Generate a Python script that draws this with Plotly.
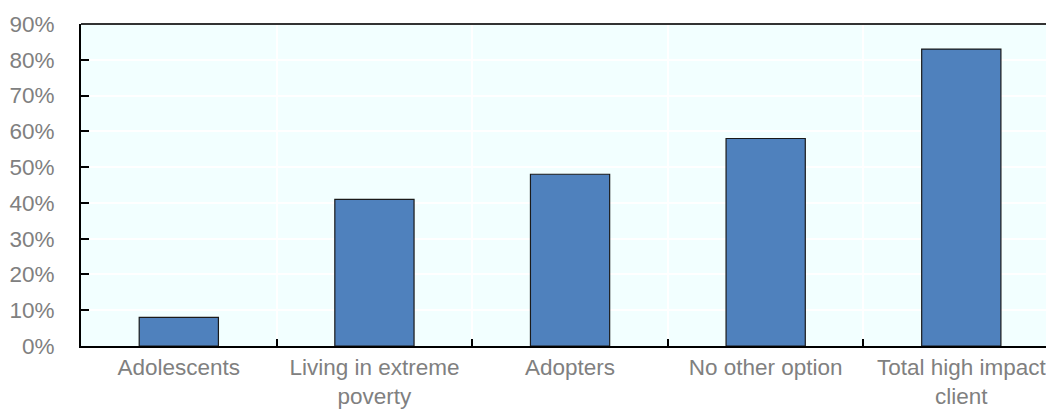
import plotly.graph_objects as go

# Share of clients in each segment
categories = ["Adolescents", "Living in extreme<br>poverty", "Adopters",
              "No other option", "Total high impact<br>client"]
shares = [8, 41, 48, 58, 83]
y_ticks = [0, 10, 20, 30, 40, 50, 60, 70, 80, 90]
y_tick_labels = [f"{v}%" for v in y_ticks]

FONT = "Liberation Sans, Arial, sans-serif"
GREY = "#808080"

x_pos = list(range(len(categories)))

fig = go.Figure(
    go.Bar(
        x=x_pos,
        y=shares,
        width=0.405,
        marker=dict(color="#4F81BD", line=dict(color="#1a1a1a", width=1.2)),
        hoverinfo="skip",
    )
)

fig.update_layout(
    width=1046,
    height=411,
    margin=dict(l=81, r=0, t=24, b=65),
    paper_bgcolor="white",
    plot_bgcolor="#F2FFFF",
    showlegend=False,
    font=dict(family=FONT, size=22.5, color=GREY),
    xaxis=dict(
        range=[-0.5, 4.433],
        tickvals=x_pos,
        ticktext=categories,
        ticks="",
        ticklabeloverflow="allow",
        showgrid=False,
        zeroline=False,
        showline=True,
        linecolor="black",
        linewidth=2,
        tickfont=dict(family=FONT, size=22.5, color=GREY),
        minor=dict(
            tickvals=[0.5, 1.5, 2.5, 3.5],
            ticks="inside",
            ticklen=7,
            tickwidth=2,
            tickcolor="black",
            showgrid=True,
            gridcolor="white",
            gridwidth=2,
        ),
    ),
    yaxis=dict(
        range=[0, 90],
        tickvals=y_ticks,
        ticktext=y_tick_labels,
        ticks="inside",
        ticklen=8,
        tickwidth=2,
        tickcolor="black",
        ticklabeloverflow="allow",
        showgrid=True,
        gridcolor="white",
        gridwidth=1.5,
        zeroline=False,
        showline=True,
        linecolor="black",
        linewidth=2,
        ticklabelstandoff=20,
        tickfont=dict(family=FONT, size=22.5, color=GREY),
    ),
    shapes=[
        dict(type="line", xref="paper", yref="paper", x0=0, x1=1, y0=1, y1=1,
             line=dict(color="#333333", width=2)),
    ],
)

fig.write_html("out.html")
